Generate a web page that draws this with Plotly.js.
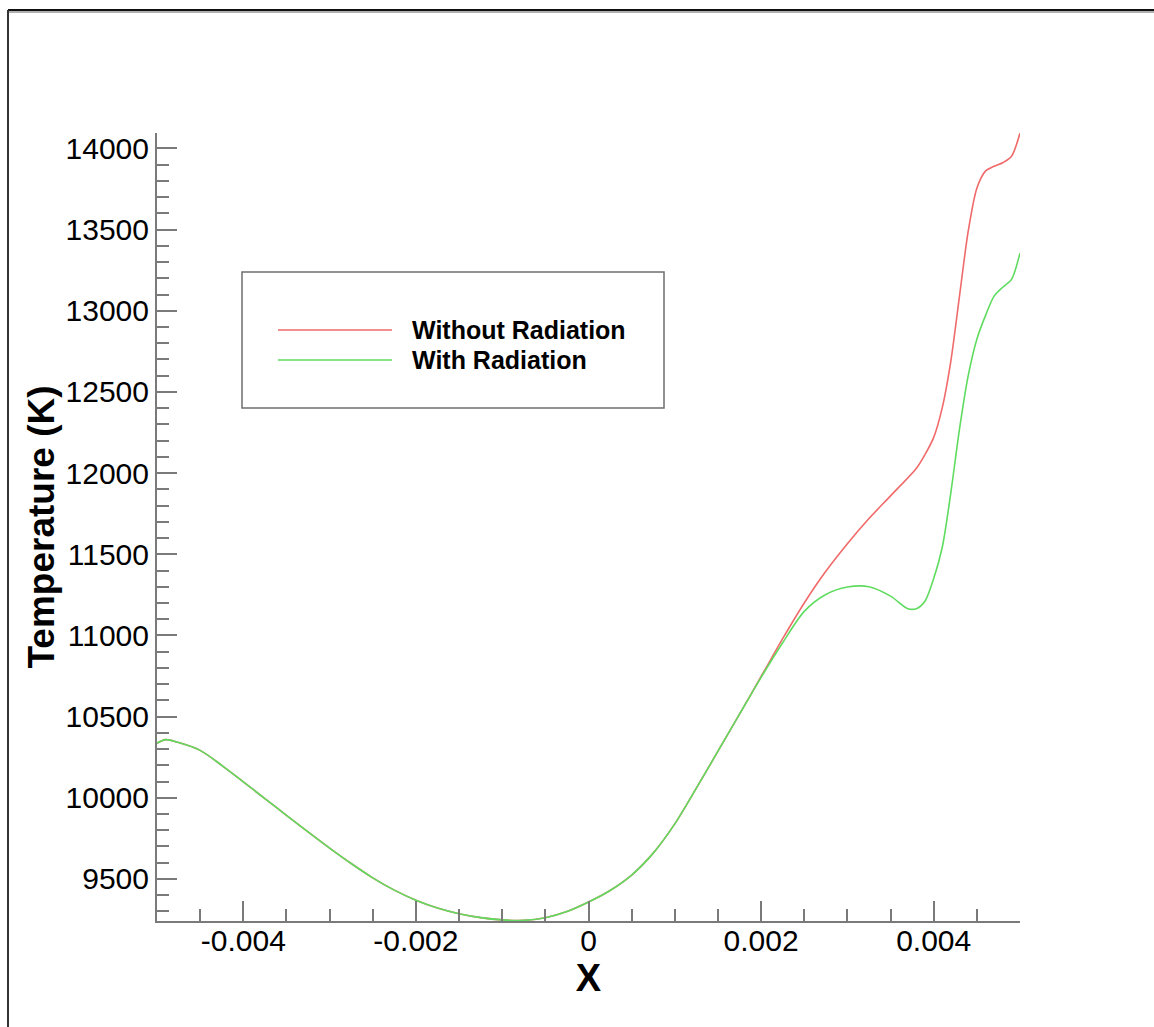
<!DOCTYPE html>
<html>
<head>
<meta charset="utf-8">
<script src="https://cdn.plot.ly/plotly-3.0.1.min.js"></script>
<style>
html,body{margin:0;padding:0;background:#fff;}
#chart{width:1154px;height:1027px;}
</style>
</head>
<body>
<div id="chart"></div>
<script>
// ---- data ----
const xWithout = [-0.005, -0.0049, -0.00475, -0.0045, -0.00425, -0.004, -0.00375, -0.0035, -0.00325, -0.003, -0.00275, -0.0025, -0.00225, -0.002,
  -0.00175, -0.0015, -0.00125, -0.001, -0.00075, -0.0005, -0.00025, 0, 0.00025, 0.0005, 0.00075, 0.001, 0.00125, 0.0015, 0.00175, 0.002,
  0.00225, 0.0025, 0.00275, 0.003, 0.00325, 0.0035, 0.0038, 0.0039, 0.004, 0.0041, 0.0042, 0.0043, 0.0044, 0.0045, 0.0046, 0.0047, 0.0048, 0.0049, 0.005];
const tWithout = [10336, 10358, 10340, 10292, 10200, 10098, 9995, 9892, 9790, 9690, 9595, 9507, 9431, 9369,
  9321, 9286, 9262, 9248, 9245, 9261, 9299, 9358, 9429, 9524, 9659, 9839, 10059, 10287, 10515, 10747,
  10980, 11200, 11395, 11565, 11720, 11860, 12030, 12115, 12220, 12405, 12695, 13095, 13490, 13755, 13860, 13890, 13912, 13950, 14095];

const xWith = [-0.005, -0.0049, -0.00475, -0.0045, -0.00425, -0.004, -0.00375, -0.0035, -0.00325, -0.003, -0.00275, -0.0025, -0.00225, -0.002,
  -0.00175, -0.0015, -0.00125, -0.001, -0.00075, -0.0005, -0.00025, 0, 0.00025, 0.0005, 0.00075, 0.001, 0.00125, 0.0015, 0.00175, 0.002,
  0.00225, 0.0025, 0.00275, 0.003, 0.00325, 0.0035, 0.0037, 0.0038, 0.0039, 0.004, 0.0041, 0.0042, 0.0043, 0.0044, 0.0045, 0.0046, 0.0047, 0.0048, 0.0049, 0.005];
const tWith = [10336, 10358, 10340, 10292, 10200, 10098, 9995, 9892, 9790, 9690, 9595, 9507, 9431, 9369,
  9321, 9286, 9262, 9248, 9245, 9261, 9299, 9358, 9429, 9524, 9659, 9839, 10059, 10287, 10515, 10742,
  10955, 11148, 11252, 11298, 11300, 11242, 11165, 11165, 11212, 11350, 11545, 11885, 12275, 12600, 12825, 12970, 13090, 13145, 13192, 13355];

const seriesNames = ["Without Radiation", "With Radiation"];
const seriesColors = ["#f06a6a", "#5fdc5f"];

const xTickVals = [-0.004, -0.002, 0, 0.002, 0.004];
const xTickLabels = ["-0.004", "-0.002", "0", "0.002", "0.004"];
const xRange = [-0.005, 0.005];
const yRange = [9241, 14095];
const xTitle = "X";
const yTitle = "Temperature (K)";

// ---- layout geometry (pixels) ----
const W = 1154, H = 1027;
const M = {l: 157, r: 134, t: 133, b: 106};
const pw = W - M.l - M.r, ph = H - M.t - M.b;
const px = v => (v - M.l) / pw;          // pixel x -> paper x
const py = v => (H - M.b - v) / ph;      // pixel y -> paper y

const FONT = "Liberation Sans, Arial, Helvetica, sans-serif";
const axisGray = "#7a7a7a";

const traces = [
  {x: xWithout, y: tWithout, name: seriesNames[0], mode: "lines",
   line: {color: seriesColors[0], width: 1.6, shape: "spline", smoothing: 0.8}, showlegend: false},
  {x: xWith, y: tWith, name: seriesNames[1], mode: "lines",
   line: {color: seriesColors[1], width: 1.6, shape: "spline", smoothing: 0.8}, showlegend: false}
];

const shapes = [
  // page frame (top and left edges)
  {type: "line", xref: "paper", yref: "paper", x0: px(8), x1: px(W + 5), y0: py(12), y1: py(12), line: {color: "#b0b0b0", width: 2}},
  {type: "line", xref: "paper", yref: "paper", x0: px(8), x1: px(W + 5), y0: py(10), y1: py(10), line: {color: "#111", width: 2.2}},
  {type: "line", xref: "paper", yref: "paper", x0: px(8), x1: px(8), y0: py(10), y1: py(H + 5), line: {color: "#333", width: 2}},
  // legend box
  {type: "rect", xref: "paper", yref: "paper", x0: px(242), x1: px(664), y0: py(408), y1: py(272),
   line: {color: "#6e6e6e", width: 1.5}, fillcolor: "rgba(0,0,0,0)"},
  // legend samples
  {type: "line", xref: "paper", yref: "paper", x0: px(278), x1: px(392), y0: py(330), y1: py(330), line: {color: seriesColors[0], width: 1.6}},
  {type: "line", xref: "paper", yref: "paper", x0: px(278), x1: px(392), y0: py(360), y1: py(360), line: {color: seriesColors[1], width: 1.6}}
];

const annotations = [
  {xref: "paper", yref: "paper", x: px(410), y: py(330), xanchor: "left", yanchor: "middle", showarrow: false,
   text: "<b>" + seriesNames[0] + "</b>", font: {family: FONT, size: 25, color: "#000"}},
  {xref: "paper", yref: "paper", x: px(410), y: py(360), xanchor: "left", yanchor: "middle", showarrow: false,
   text: "<b>" + seriesNames[1] + "</b>", font: {family: FONT, size: 25, color: "#000"}}
];

const layout = {
  width: W, height: H, autosize: false,
  margin: M,
  paper_bgcolor: "#fff", plot_bgcolor: "#fff",
  font: {family: FONT, color: "#000"},
  showlegend: false,
  xaxis: {
    range: xRange, showgrid: false, zeroline: false,
    showline: true, linecolor: axisGray, linewidth: 2,
    tickmode: "array", tickvals: xTickVals, ticktext: xTickLabels,
    ticks: "inside", ticklen: 20, tickwidth: 2, tickcolor: axisGray,
    ticklabelstandoff: -8,
    tickfont: {family: FONT, size: 30, color: "#000"},
    minor: {ticks: "inside", ticklen: 12, tickwidth: 2, tickcolor: axisGray, dtick: 0.0005, tick0: 0, showgrid: false},
    title: {text: "<b>" + xTitle + "</b>", font: {family: FONT, size: 38, color: "#000"}, standoff: 0}
  },
  yaxis: {
    range: yRange, showgrid: false, zeroline: false,
    showline: true, linecolor: axisGray, linewidth: 2,
    dtick: 500, tick0: 0, tickformat: "d",
    ticks: "inside", ticklen: 20, tickwidth: 2, tickcolor: axisGray,
    tickfont: {family: FONT, size: 30, color: "#000"},
    minor: {ticks: "inside", ticklen: 12, tickwidth: 2, tickcolor: axisGray, dtick: 100, tick0: 0, showgrid: false},
    title: {text: "<b>" + yTitle + "</b>", font: {family: FONT, size: 37, color: "#000"}, standoff: 0}
  },
  shapes: shapes,
  annotations: annotations
};

Plotly.newPlot("chart", traces, layout, {displayModeBar: false, responsive: false});
</script>
</body>
</html>
